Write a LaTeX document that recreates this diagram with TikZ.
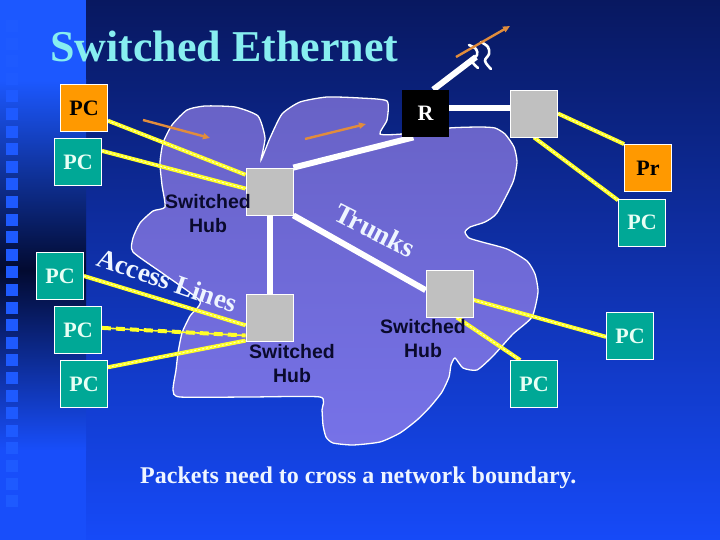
\documentclass[tikz,border=0pt]{standalone}
\usepackage{fontspec}
\setmainfont{Liberation Serif}
\newfontfamily\arialf{Liberation Sans}
\usetikzlibrary{arrows.meta}
\definecolor{bgtop}{RGB}{8,24,96}
\definecolor{bgbot}{RGB}{22,74,248}
\definecolor{stripbright}{RGB}{28,88,255}
\definecolor{stripdark}{RGB}{2,10,48}
\definecolor{stripbot}{RGB}{24,78,250}
\definecolor{sqblue}{RGB}{30,90,255}
\definecolor{titlecyan}{RGB}{135,238,240}
\definecolor{cloudtop}{RGB}{104,98,198}
\definecolor{cloudbot}{RGB}{118,114,232}
\definecolor{tealbox}{RGB}{0,168,150}
\definecolor{orangebox}{RGB}{255,153,0}
\definecolor{hubgray}{RGB}{192,192,192}
\definecolor{ylw}{RGB}{255,255,40}
\definecolor{ylwlight}{RGB}{255,255,200}
\definecolor{arrowc}{RGB}{225,140,60}
\definecolor{pctext}{RGB}{232,255,245}
\definecolor{hubtext}{RGB}{10,10,45}
\definecolor{lighttext}{RGB}{238,245,255}
\pgfdeclarelayer{bg}
\pgfdeclarelayer{links}
\pgfsetlayers{bg,links,main}
\begin{document}
\begin{tikzpicture}[x=1pt,y=-1pt,
  box/.style={minimum size=47pt, inner sep=0pt, line width=0.8pt,
    font=\fontsize{22}{22}\selectfont\bfseries},
  pcbox/.style={box, draw=white, fill=tealbox, text=pctext},
  orbox/.style={box, draw=white, fill=orangebox, text=black},
  hubbox/.style={box, draw=white, fill=hubgray},
  rbox/.style={box, fill=black, text=white},
  hublabel/.style={align=center, text=hubtext, font=\arialf\bfseries\fontsize{19.5}{24}\selectfont},
  ylink/.style={draw=ylw, line width=4pt,
    postaction={draw=ylwlight, line width=1pt, dash pattern=on 2pt off 2pt}},
  ydash/.style={draw=ylw, line width=1.6pt,
    postaction={draw=ylw, line width=4pt, dash pattern=on 9pt off 5pt}},
  wlink/.style={draw=white, line width=6pt},
  squig/.style={draw=white, line width=2.6pt, line cap=round, line join=round},
  flow/.style={draw=arrowc, line width=2.4pt, -{Triangle[length=7pt,width=6pt]}},
  bigtext/.style={text=lighttext, font=\fontsize{27}{27}\selectfont\bfseries, inner sep=0pt}
]
\useasboundingbox (0,0) rectangle (720,540);
\begin{pgfonlayer}{bg}
% background
\shade[top color=bgtop, bottom color=bgbot] (86,0) rectangle (720,540);
\fill[stripbright] (0,0) rectangle (86,80.5);
\shade[top color=stripbright, bottom color=stripdark] (0,80) rectangle (86,270.5);
\shade[top color=stripdark, bottom color=stripbot] (0,270) rectangle (86,450.5);
\fill[stripbot] (0,450) rectangle (86,540);
\foreach \i in {0,...,27}
  \fill[sqblue] (6,{20+\i*17.6}) rectangle ++(12,12);
% cloud
\shadedraw[top color=cloudtop, bottom color=cloudbot, draw=white, line width=1.3pt]
  plot[smooth cycle, tension=0.35] coordinates {
  (165,207) (162,185) (160,163) (163,143) (172,125) (187,110) (205,106) (235,107)
  (258,116) (265,138) (261,160) (270,138) (282,114) (300,102) (327,97) (360,98)
  (387,101) (387,120) (380,134) (402,134) (449,128) (480,127) (495,128) (505,134)
  (514,147) (517,162) (513,182) (497,213) (485,222) (470,227) (465,232) (469,238)
  (482,242) (507,249) (527,261) (535,274) (538,292) (532,317) (513,334) (493,356)
  (477,370) (463,368) (455,358) (451,365) (449,377) (442,392) (430,407) (417,420)
  (400,433) (380,442) (353,445) (333,443) (326,437) (323,425) (322,410) (320,397)
  (250,397) (180,397) (173,390) (176,370) (178,353) (182,333) (190,316) (200,301)
  (165,275) (133,252) (133,238) (140,223) (153,211)};
\end{pgfonlayer}

% title
\node[anchor=base west, inner sep=0pt, text=titlecyan,
  font=\fontsize{44}{44}\selectfont\bfseries] (title) at (50,62) {Switched Ethernet};

% boxes
\node[orbox] (pc1) at (84,108) {PC};
\node[pcbox] (pc2) at (78,162) {PC};
\node[pcbox] (pc3) at (60,276) {PC};
\node[pcbox] (pc4) at (78,330) {PC};
\node[pcbox] (pc5) at (84,384) {PC};
\node[rbox] (R) at (425.5,113.5) {R};
\node[hubbox] (gw) at (534,113.5) {};
\node[orbox] (pr) at (648,168) {Pr};
\node[pcbox] (pc6) at (642,222.5) {PC};
\node[hubbox] (hub1) at (269.5,191.5) {};
\node[hubbox] (hub2) at (269.5,317.5) {};
\node[hubbox] (hub3) at (449.5,293.5) {};
\node[pcbox] (pc7) at (630,336) {PC};
\node[pcbox] (pc8) at (534,384) {PC};
\coordinate (sq) at (476,57);

\begin{pgfonlayer}{links}
% yellow access lines
\draw[ylink] (pc1.-28) -- (hub1.145);
\draw[ylink] (pc2.25) -- (hub1.173);
\draw[ylink] (pc3.east) -- (hub2.-162);
\draw[ydash] (pc4.5) -- (hub2.-143);
\draw[ylink] (pc5.35) -- (hub2.-136);
\draw[ylink] (gw.east) -- (pr.north west);
\draw[ylink] (gw.south) -- (pc6.137);
\draw[ylink] (hub3.-15) -- (pc7.-178);
\draw[ylink] (hub3.-73) -- (pc8.120);
% white trunks
\draw[wlink] (hub1.north east) -- (R.-117);
\draw[wlink] (hub1.south) -- (hub2.north);
\draw[wlink] (hub1.south east) -- (hub3.172);
\draw[wlink] (R.13) -- (gw.167);
\draw[wlink] (R.72) -- (sq);
% squiggles
\draw[squig] plot[smooth, tension=0.6] coordinates {(469,45) (476,49) (477,55) (472,61) (478,68)};
\draw[squig] plot[smooth, tension=0.6] coordinates {(481,42) (488,47) (489,54) (485,61) (491,69)};
\end{pgfonlayer}

% hub labels
\node[hublabel] (lab1) at (208,214) {Switched\\Hub};
\node[hublabel] (lab2) at (292,364) {Switched\\Hub};
\node[hublabel] (lab3) at (423,339) {Switched\\Hub};

% flow arrows
\draw[flow] (143,120) -- (210,138);
\draw[flow] (305,139) -- (366,124);
\draw[flow] (456,57) -- (510,26);

% rotated texts
\node[bigtext, rotate=-19, anchor=base west] (acc) at (95,265) {Access Lines};
\node[bigtext, rotate=-27, anchor=base west, font=\fontsize{28}{28}\selectfont\bfseries] (trk) at (332,219) {Trunks};

% caption
\node[anchor=base west, inner sep=0pt, text=lighttext,
  font=\fontsize{24}{24}\selectfont\bfseries] (cap) at (140,483) {Packets need to cross a network boundary.};
\end{tikzpicture}
\end{document}
